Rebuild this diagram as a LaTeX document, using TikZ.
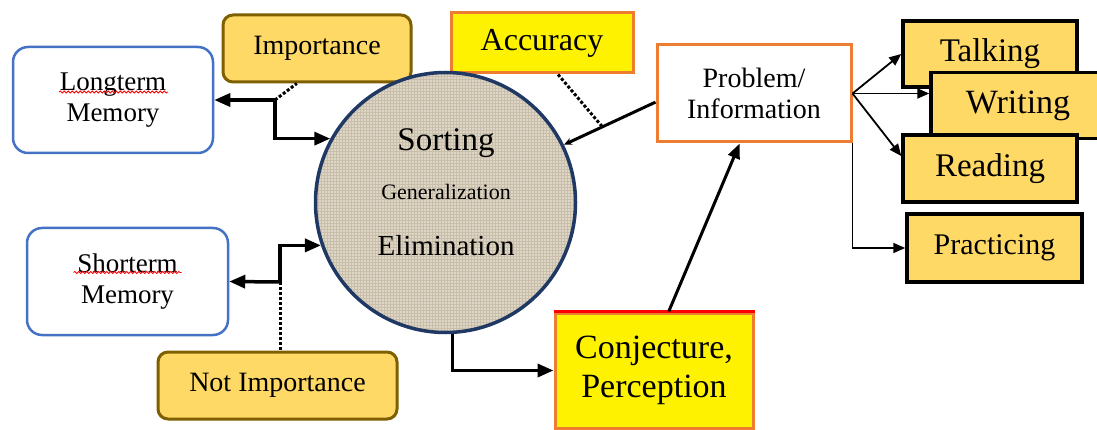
\documentclass[tikz,border=0pt]{standalone}
\usepackage{fontspec}
\setmainfont{Liberation Serif}
\usetikzlibrary{arrows.meta,calc,shadows,patterns,decorations.pathmorphing}
\definecolor{gold}{RGB}{255,217,102}
\definecolor{golddark}{RGB}{127,96,0}
\definecolor{memblue}{RGB}{68,114,196}
\definecolor{orangeline}{RGB}{237,125,49}
\definecolor{navy}{RGB}{32,56,100}
\definecolor{burlap}{RGB}{222,214,198}
\definecolor{burlapdark}{RGB}{200,190,170}
\begin{document}
\begin{tikzpicture}[x=1pt,y=-1pt,
    memory/.style={draw=memblue,line width=2.5pt,rounded corners=15pt,fill=white,align=center,inner sep=0pt,font=\fontsize{27}{31}\selectfont},
    weight/.style={draw=golddark,line width=3pt,rounded corners=10pt,fill=gold,inner sep=0pt,minimum height=67pt,font=\fontsize{28}{32}\selectfont},
    skill/.style={draw=black,line width=3.5pt,fill=gold,inner sep=0pt,minimum width=174pt,minimum height=66pt,font=\fontsize{33}{38}\selectfont,drop shadow={shadow xshift=2pt,shadow yshift=-2pt,fill=black,opacity=1}},
    yellowbox/.style={draw=orangeline,line width=3pt,fill=yellow,inner sep=0pt,align=center},
    mainarrow/.style={line width=3.5pt,-{Triangle[length=16pt,width=13pt]}},
    fanarrow/.style={line width=1.8pt,-{Triangle[length=12pt,width=10pt]}},
    hint/.style={line width=3pt,dotted},
    squiggle/.style={red,line width=0.8pt,decorate,decoration={snake,segment length=4pt,amplitude=1pt}}]
            \useasboundingbox (0,0) rectangle (1097,430);
            \node[memory,minimum width=200pt,minimum height=106pt] (long) at (113,100) {Longterm\\Memory};
            \node[memory,minimum width=201pt,minimum height=107pt] (short) at (127.5,281.5) {Shorterm\\Memory};
            \node[weight,minimum width=188pt] (imp) at (317,48.5) {Importance};
            \node[weight,minimum width=239pt] (notimp) at (277.5,385.5) {Not Importance};
            \node[yellowbox,minimum width=182pt,minimum height=60pt,font=\fontsize{32}{36}\selectfont] (acc) at (542,43) {Accuracy};
            \node[draw=orangeline,line width=3pt,fill=white,inner sep=0pt,align=center,minimum width=194pt,minimum height=97pt,font=\fontsize{28}{31}\selectfont] (prob) at (754,93.5) {Problem/\\Information};
            \node[yellowbox,minimum width=198pt,minimum height=115pt,font=\fontsize{34}{39}\selectfont] (conj) at (654,370.5) {Conjecture,\\Perception};
            \draw[red,line width=3pt] (conj.north west) -- (conj.north east);
            \node[circle,draw=navy,line width=3.5pt,preaction={fill=burlap},pattern=grid,pattern color=burlapdark,minimum size=260pt,inner sep=0pt] (sort) at (445.5,202.5) {};
            \node[anchor=base,font=\fontsize{33}{38}\selectfont] (sorting) at (446,151) {Sorting};
            \node[anchor=base,font=\fontsize{22}{25}\selectfont] (general) at (446,200) {Generalization};
            \node[anchor=base,font=\fontsize{29}{32}\selectfont] (elim) at (446,255) {Elimination};
            \node[skill] (talk) at (990,54) {Talking};
            \node[skill,font=\fontsize{34}{38}\selectfont] (write) at (1018,105.5) {Writing};
            \node[skill,minimum height=67pt] (read) at (990,168.5) {Reading};
            \node[skill,minimum width=175pt,minimum height=68pt,font=\fontsize{30}{33}\selectfont] (prac) at (994.5,248) {Practicing};
            \draw[squiggle] ($(long.center)+(-54,-8)$) -- ($(long.center)+(55,-8)$);
            \draw[squiggle] ($(short.center)+(-54,-9)$) -- ($(short.center)+(54,-9)$);
            \coordinate (jl) at (275,100);
            \coordinate (js) at (280,282);
            \draw[mainarrow] (jl) -- (long.east);
            \draw[mainarrow] (jl) |- (sort.151);
            \draw[hint] (jl) -- (imp.240);
            \draw[mainarrow] (js) -- (short.east);
            \draw[mainarrow] (js) |- (sort.199);
            \draw[hint] (js) -- (js |- notimp.north);
            \draw[mainarrow] (sort.273) |- (conj.west);
            \draw[line width=3pt,-{Triangle[length=15pt,width=12pt]}] (conj.76) -- (prob.254);
            \draw[line width=3pt,-{Stealth[length=8pt,width=7pt]}] (prob.185) -- (sort.26);
            \draw[hint] (acc.-63) -- ($(prob.185)!0.58!(sort.26)$);
            \draw[fanarrow] (prob.east) -- (talk.west);
            \draw[fanarrow] (prob.east) -- (prob.east -| write.west);
            \draw[fanarrow] (prob.east) -- (read.172);
            \draw[fanarrow] (prob.south east) |- (prac.west);
        \end{tikzpicture}
\end{document}
